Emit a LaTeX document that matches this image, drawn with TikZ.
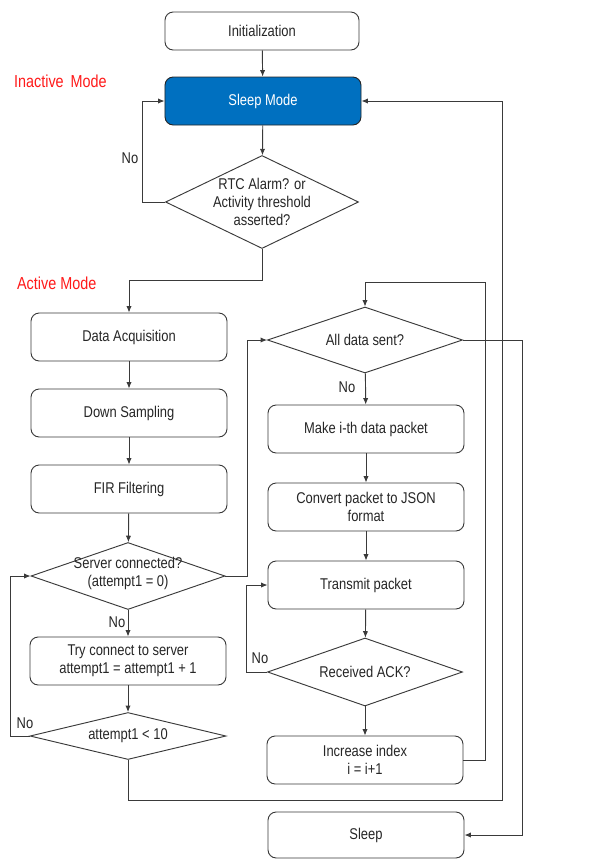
\documentclass[tikz,border=0pt]{standalone}
\usepackage{fontspec}
\setmainfont{Liberation Sans}[FakeStretch=0.83]
\usepackage{tikz}
\usetikzlibrary{positioning,calc,shapes.geometric,arrows.meta}
\definecolor{fcline}{HTML}{3A3A3A}
\definecolor{fctext}{HTML}{262626}
\definecolor{fcblue}{HTML}{0070C0}
\definecolor{fcred}{HTML}{FF1A1A}

\begin{document}
\begin{tikzpicture}[
  x=0.03cm, y=-0.03cm,
  every node/.style={font=\fontsize{13.3}{15.5}\selectfont, text=fctext},
  procbox/.style={rectangle, rounded corners=7pt, draw=fcline, line width=0.8pt, align=center, minimum width=5.88cm, minimum height=1.44cm, inner sep=2pt},
  sleepbox/.style={procbox, fill=fcblue, draw=black!85, text=white},
  decision/.style={diamond, draw=fcline, line width=0.8pt, inner sep=0pt},
  dtext/.style={align=center, inner sep=0pt},
  flow/.style={draw=fcline, line width=0.8pt, -{Latex[length=5.5pt,width=4.5pt]}},
  modelabel/.style={text=fcred, font=\fontsize{14.8}{17}\selectfont, anchor=west},
]
\useasboundingbox (0,0) rectangle (601,859);

% inactive part
\node[procbox, minimum width=5.82cm, minimum height=1.14cm] (init) at (262,31) {Initialization};
\node[sleepbox] (sleep) at (263,101) {Sleep Mode};
\node[decision, minimum width=5.79cm, minimum height=2.79cm,
  label={[dtext]center:RTC Alarm? or\\Activity threshold\\asserted?}] (rtc) at (262,202) {};
\node[modelabel] (inactive) at (10,81) {Inactive\ \,Mode};
\node[modelabel] (active) at (13,283) {Active Mode};

% left column: acquisition and connection
\node[procbox] (acq) at (129,337) {Data Acquisition};
\node[procbox] (down) at (129,413) {Down Sampling};
\node[procbox] (fir) at (129,489) {FIR Filtering};
\node[decision, minimum width=5.82cm, minimum height=2.01cm,
  label={[dtext, yshift=2pt]center:Server connected?\\(attempt1 = 0)}] (server) at (128,576) {};
\node[procbox] (try) at (128,661) {Try connect to server\\attempt1 = attempt1 + 1};
\node[decision, minimum width=5.88cm, minimum height=1.41cm,
  label={[dtext]center:attempt1 < 10}] (att) at (128,736) {};

% right column: sending packets
\node[decision, minimum width=5.85cm, minimum height=1.98cm,
  label={[dtext]center:All data sent?}] (alldata) at (365,340) {};
\node[procbox] (make) at (366,429) {Make i-th data packet};
\node[procbox] (conv) at (366,507) {Convert packet to JSON\\format};
\node[procbox] (trans) at (366,585) {Transmit packet};
\node[decision, minimum width=5.85cm, minimum height=2.04cm,
  label={[dtext]center:Received ACK?}] (ack) at (365,672) {};
\node[procbox] (incr) at (365,760) {Increase index\\i = i+1};
\node[procbox, minimum height=1.38cm] (done) at (366,835) {Sleep};

% helper corners for the long return lines
\coordinate (idxR) at (485,282);
\coordinate (backR) at (502,800);
\coordinate (endR) at (522,340);

% connectors
\draw[flow] (init) -- (sleep);
\draw[flow] (sleep) -- (rtc);
\draw[flow] (rtc.west) -- ++(-23,0) |- (sleep.west);
\node (norct) at (130,158) {No};
\draw[flow] (rtc.south) -- ++(0,31) -| (acq.north);
\draw[flow] (acq) -- (down);
\draw[flow] (down) -- (fir);
\draw[flow] (fir) -- (server);
\draw[flow] (server) -- (try);
\node (noserver) at (117,622) {No};
\draw[flow] (try) -- (att);
\draw[flow] (att.west) -- ++(-19,0) |- (server.west);
\node (noatt) at (25,723) {No};
\draw[flow] (server.east) -- ++(22,0) |- (alldata.west);
\draw[flow] (alldata) -- (make);
\node (noall) at (347,387) {No};
\draw[flow] (make) -- (conv);
\draw[flow] (conv) -- (trans);
\draw[flow] (trans) -- (ack);
\draw[flow] (ack.west) -- ++(-21,0) |- (trans.west);
\node (noack) at (260,658) {No};
\draw[flow] (ack) -- (incr);
\draw[flow] (incr.east) -| (idxR) -- (idxR -| alldata.north) -- (alldata.north);
\draw[flow] (att.south) |- (backR) |- (sleep.east);
\draw[flow] (alldata.east) -- (endR) |- (done.east);
\end{tikzpicture}
\end{document}
